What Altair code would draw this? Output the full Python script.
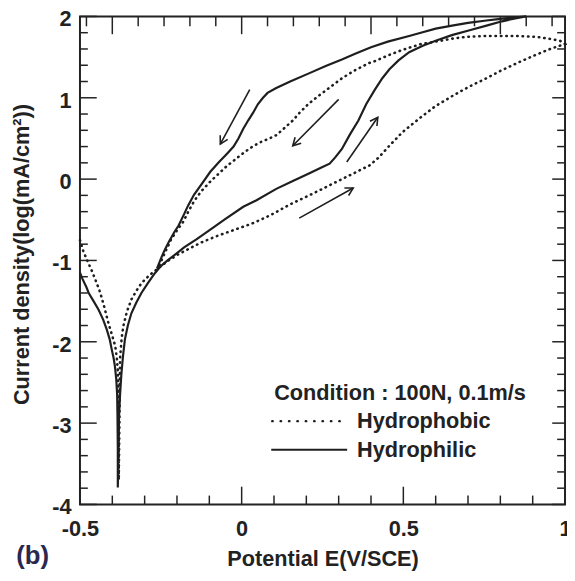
import math
import altair as alt
import pandas as pd

# ---------------- data ----------------
# Hydrophilic (solid): cathodic branch -> Ecorr -> forward anodic -> reverse scan
philic_E = [
    -0.500, -0.493, -0.480, -0.473, -0.458, -0.442, -0.428, -0.417, -0.408, -0.402,
    -0.396, -0.392, -0.388, -0.385, -0.384, -0.383, -0.383,
    -0.381, -0.379, -0.376, -0.372, -0.367, -0.361, -0.352, -0.341, -0.326, -0.310,
    -0.290, -0.269, -0.250, -0.229, -0.200, -0.178, -0.140, -0.097, -0.050, 0.005,
    0.046, 0.107, 0.160, 0.208, 0.245, 0.272, 0.290, 0.310, 0.335, 0.361, 0.385,
    0.412, 0.435, 0.457, 0.485, 0.518, 0.560, 0.600, 0.650, 0.705, 0.760, 0.805,
    0.850, 0.880,
    0.850, 0.800, 0.757, 0.700, 0.655, 0.600, 0.554, 0.518, 0.452, 0.400, 0.351,
    0.310, 0.260, 0.208, 0.150, 0.107, 0.080, 0.066, 0.050, 0.036, 0.020, 0.005,
    -0.010, -0.025, -0.046, -0.070, -0.097, -0.120, -0.147, -0.165, -0.178, -0.195,
    -0.208, -0.225, -0.239, -0.250, -0.262,
]
philic_logi = [
    -1.15, -1.22, -1.33, -1.40, -1.50, -1.61, -1.73, -1.85, -1.97, -2.09,
    -2.20, -2.30, -2.45, -2.65, -2.90, -3.30, -3.79,
    -3.30, -2.90, -2.65, -2.40, -2.18, -1.97, -1.80, -1.65, -1.52, -1.40,
    -1.28, -1.16, -1.07, -1.00, -0.91, -0.84, -0.74, -0.62, -0.49, -0.34,
    -0.26, -0.12, -0.02, 0.07, 0.14, 0.19, 0.27, 0.37, 0.55, 0.72, 0.92,
    1.10, 1.24, 1.35, 1.46, 1.56, 1.64, 1.70, 1.77, 1.83, 1.89, 1.94,
    1.98, 2.00,
    1.99, 1.97, 1.95, 1.92, 1.89, 1.85, 1.80, 1.76, 1.69, 1.62, 1.54,
    1.47, 1.39, 1.30, 1.20, 1.12, 1.06, 1.00, 0.92, 0.82, 0.72, 0.62,
    0.50, 0.40, 0.31, 0.21, 0.09, -0.04, -0.19, -0.32, -0.43, -0.57,
    -0.65, -0.77, -0.88, -0.98, -1.10,
]

# Hydrophobic (dotted)
phobic_E = [
    -0.500, -0.490, -0.483, -0.472, -0.462, -0.450, -0.437, -0.425, -0.412, -0.400,
    -0.391, -0.386, -0.383, -0.381, -0.380, -0.380,
    -0.378, -0.377, -0.376, -0.371, -0.366, -0.355, -0.341, -0.325, -0.310, -0.285,
    -0.259, -0.230, -0.198, -0.160, -0.120, -0.070, -0.020, 0.036, 0.091, 0.150,
    0.193, 0.250, 0.300, 0.351, 0.396, 0.425, 0.452, 0.498, 0.554, 0.600, 0.655,
    0.705, 0.757, 0.805, 0.859, 0.905, 0.960, 1.000,
    0.985, 0.960, 0.910, 0.850, 0.800, 0.757, 0.700, 0.655, 0.600, 0.554, 0.498,
    0.452, 0.412, 0.396, 0.351, 0.310, 0.270, 0.240, 0.208, 0.180, 0.158, 0.130,
    0.107, 0.080, 0.056, 0.030, 0.005, -0.046, -0.097, -0.125, -0.147, -0.165,
    -0.180, -0.200, -0.218, -0.239, -0.259,
]
phobic_logi = [
    -0.75, -0.88, -0.95, -1.05, -1.14, -1.26, -1.40, -1.57, -1.77, -1.93,
    -2.05, -2.20, -2.35, -2.60, -3.00, -3.70,
    -3.00, -2.60, -2.20, -1.95, -1.81, -1.63, -1.48, -1.37, -1.28, -1.18,
    -1.10, -1.01, -0.93, -0.85, -0.77, -0.69, -0.62, -0.54, -0.44, -0.31,
    -0.23, -0.12, -0.02, 0.08, 0.17, 0.27, 0.39, 0.58, 0.76, 0.90, 1.03,
    1.14, 1.24, 1.34, 1.44, 1.52, 1.61, 1.66,
    1.70, 1.72, 1.75, 1.76, 1.76, 1.76, 1.75, 1.73, 1.69, 1.66, 1.59,
    1.52, 1.45, 1.43, 1.34, 1.24, 1.12, 1.03, 0.93, 0.82, 0.72, 0.62,
    0.54, 0.49, 0.45, 0.39, 0.32, 0.16, -0.03, -0.15, -0.27, -0.40,
    -0.52, -0.63, -0.74, -0.92, -1.10,
]

# Scan-direction arrows (tail -> head)
arrow_tail_E = [0.025, 0.300, 0.178, 0.325]
arrow_tail_i = [1.10, 0.98, -0.48, 0.21]
arrow_head_E = [-0.066, 0.158, 0.345, 0.421]
arrow_head_i = [0.43, 0.41, -0.11, 0.76]

# Axis ticks / labels
x_major = [-0.5, 0, 0.5, 1]
x_minor = [-0.4, -0.3, -0.2, -0.1, 0.1, 0.2, 0.3, 0.4, 0.6, 0.7, 0.8, 0.9]
top_major = [-0.4, 0, 0.4, 0.8]
top_minor = [-0.48, -0.32, -0.24, -0.16, -0.08, 0.08, 0.16, 0.24, 0.32,
             0.48, 0.56, 0.64, 0.72, 0.88, 0.96]
y_major = [-4, -3, -2, -1, 0, 1, 2]
y_minor = [-3.8, -3.6, -3.4, -3.2, -2.8, -2.6, -2.4, -2.2, -1.8, -1.6, -1.4, -1.2,
           -0.8, -0.6, -0.4, -0.2, 0.2, 0.4, 0.6, 0.8, 1.2, 1.4, 1.6, 1.8]

legend_title = ["Condition : 100N, 0.1m/s"]
legend_phobic = ["Hydrophobic"]
legend_philic = ["Hydrophilic"]
panel_label = ["(b)"]

# ---------------- styling ----------------
W, H = 492, 495
FONT = "Liberation Sans"
INK = "#222222"
FS = 22

xs = alt.Scale(domain=[-0.5, 1], nice=False, zero=False)
ys = alt.Scale(domain=[-4, 2], nice=False, zero=False)

philic = pd.DataFrame({"E": philic_E, "logi": philic_logi, "k": range(len(philic_E))})
phobic = pd.DataFrame({"E": phobic_E, "logi": phobic_logi, "k": range(len(phobic_E))})

x_axis = alt.Axis(
    values=x_major, labelExpr="'' + datum.value", ticks=False, tickSize=0,
    domain=False, grid=False, labelFont=FONT, labelFontSize=FS,
    labelFontWeight="bold", labelColor=INK, labelPadding=14, labelFlush=False,
    labelOverlap=False,
    title="Potential E(V/SCE)", titleFont=FONT, titleFontSize=FS,
    titleFontWeight="bold", titleColor=INK, titleBaseline="middle",
    titleY=55, titleX=W / 2,
)
y_axis = alt.Axis(
    values=y_major, labelExpr="'' + datum.value", ticks=False, tickSize=0,
    domain=False, grid=False, labelFont=FONT, labelFontSize=FS,
    labelFontWeight="bold", labelColor=INK, labelPadding=9, labelFlush=False,
    labelOverlap=False, labelOffset=2.5,
    title="Current density(log(mA/cm²))", titleFont=FONT, titleFontSize=FS,
    titleFontWeight="bold", titleColor=INK, titleBaseline="middle",
    titleAngle=270, titleX=-59, titleY=241,
)

def X(field):
    return alt.X(field, scale=xs, axis=x_axis)

def Y(field):
    return alt.Y(field, scale=ys, axis=y_axis)

phobic_line = alt.Chart(phobic).mark_line(
    color="#1e1e1e", strokeWidth=2.6, strokeDash=[0.5, 5], strokeCap="round"
).encode(x=X("E:Q"), y=Y("logi:Q"), order="k:Q")
philic_line = alt.Chart(philic).mark_line(
    color="#1e1e1e", strokeWidth=2.2
).encode(x=X("E:Q"), y=Y("logi:Q"), order="k:Q")

# arrows
sx, sy = W / 1.5, H / 6.0
angles = []
for tx, ty, hx, hy in zip(arrow_tail_E, arrow_tail_i, arrow_head_E, arrow_head_i):
    dx = (hx - tx) * sx
    dys = -(hy - ty) * sy
    angles.append(math.degrees(math.atan2(dx, -dys)) % 360)
arrows = pd.DataFrame({
    "E": arrow_tail_E, "logi": arrow_tail_i,
    "E2": arrow_head_E, "logi2": arrow_head_i, "ang": angles,
})
arrow_shaft = alt.Chart(arrows).mark_rule(color="#1e1e1e", strokeWidth=1.6).encode(
    x=X("E:Q"), y=Y("logi:Q"), x2="E2:Q", y2="logi2:Q",
)
arrow_head = alt.Chart(arrows).mark_point(
    shape="M -0.5 0.9 L 0 0 L 0.5 0.9", filled=False, size=300,
    strokeWidth=1.6, color="#1e1e1e", opacity=1,
).encode(
    x=X("E2:Q"), y=Y("logi2:Q"),
    angle=alt.Angle("ang:Q", scale=None),
)

# manual inward ticks
def vticks(vals, y0, y1):
    return alt.Chart(pd.DataFrame({"E": vals})).mark_rule(color=INK, strokeWidth=1.5).encode(
        x=X("E:Q"), y=alt.value(y0), y2=alt.value(y1))

def hticks(vals, x0, x1):
    return alt.Chart(pd.DataFrame({"logi": vals})).mark_rule(color=INK, strokeWidth=1.5).encode(
        y=Y("logi:Q"), x=alt.value(x0), x2=alt.value(x1))

ticks = [
    vticks(x_major, H, H - 18), vticks(x_minor, H, H - 9),
    vticks(top_major, 0, 18), vticks(top_minor, 0, 10),
    hticks(y_major, 0, 17), hticks(y_minor, 0, 8),
    hticks(y_major, W, W - 13), hticks(y_minor, W, W - 8),
]

# legend (drawn inside the plot)
def label(txt, x, y, size=FS, color=INK):
    return alt.Chart(pd.DataFrame({"t": txt})).mark_text(
        align="left", baseline="middle", font=FONT, fontSize=size,
        fontWeight="bold", color=color,
    ).encode(x=alt.value(x), y=alt.value(y), text="t:N")

leg_title = label(legend_title, 197, 382.5)
leg_phobic = label(legend_phobic, 281, 410.5)
leg_philic = label(legend_philic, 281, 439.5)
leg_dot = alt.Chart(pd.DataFrame({"t": legend_phobic})).mark_rule(
    color="#1e1e1e", strokeWidth=2.4, strokeDash=[0.5, 8], strokeCap="round"
).encode(x=alt.value(195), x2=alt.value(271), y=alt.value(410.5))
leg_solid = alt.Chart(pd.DataFrame({"t": legend_philic})).mark_rule(
    color="#1e1e1e", strokeWidth=2.2
).encode(x=alt.value(194), x2=alt.value(271), y=alt.value(439.5))

panel = alt.Chart(pd.DataFrame({"t": panel_label})).mark_text(
    align="center", baseline="middle", font=FONT, fontSize=26,
    fontWeight="bold", color="#2a2850",
).encode(x=alt.value(-48), y=alt.value(547.5), text="t:N")

chart = alt.layer(
    phobic_line, philic_line, arrow_shaft, arrow_head, *ticks,
    leg_title, leg_phobic, leg_philic, leg_dot, leg_solid, panel,
).properties(
    width=W, height=H,
    autosize=alt.AutoSizeParams(type="none"),
    padding={"left": 73, "top": 4.5, "right": 2, "bottom": 68},
).configure_view(stroke=INK, strokeWidth=2)

chart.save("out.html", embed_options={"renderer": "svg", "actions": False})
